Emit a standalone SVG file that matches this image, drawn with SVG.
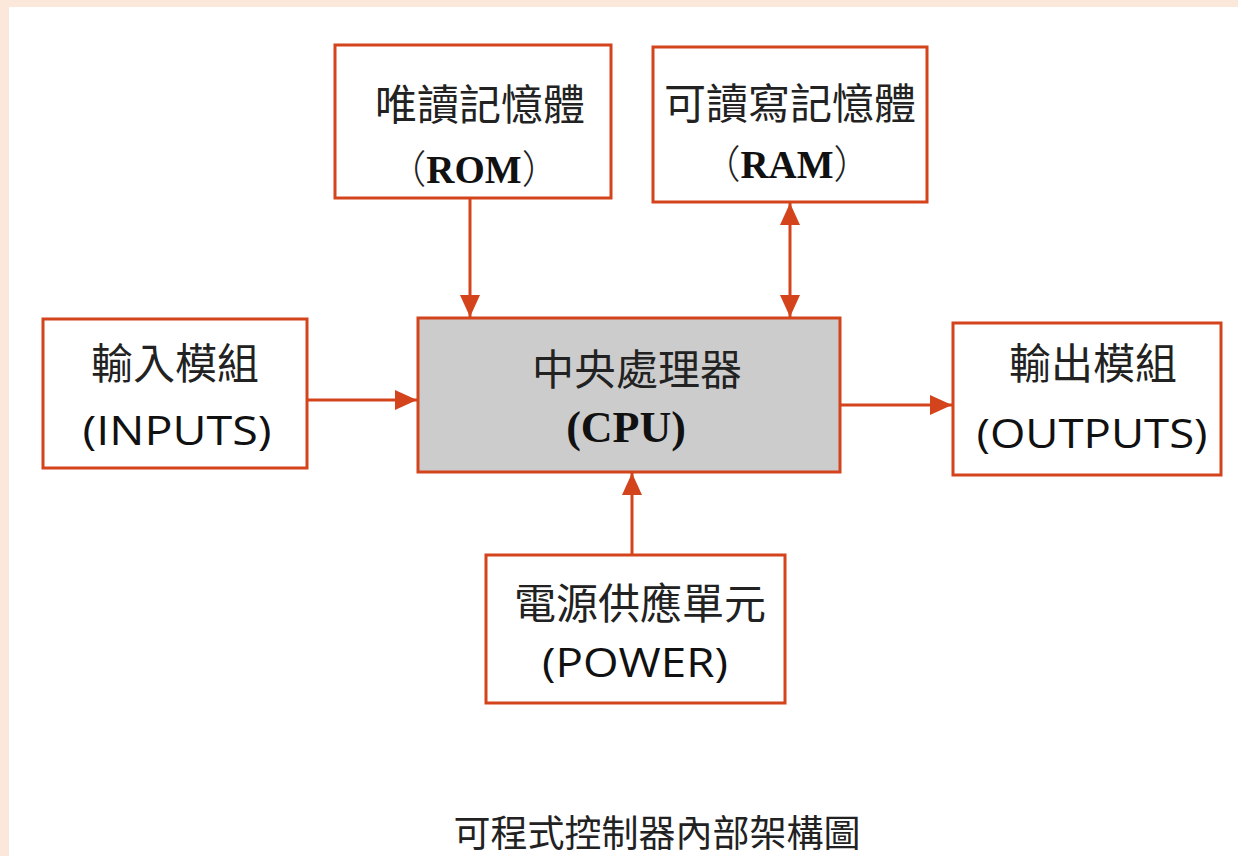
<svg xmlns="http://www.w3.org/2000/svg" width="1238" height="856" viewBox="0 0 1238 856">
<defs>
<style>
.box{fill:#fff;stroke:#d4441c;stroke-width:3}
.cpu{fill:#cccccc;stroke:#d4441c;stroke-width:3}
.cjk{font-family:"Noto Sans CJK TC","Noto Sans CJK SC",sans-serif;font-size:42px;fill:#222;text-anchor:middle}
.ser{font-family:"Liberation Serif","Noto Sans CJK TC",serif;font-weight:bold;font-size:39px;fill:#111;text-anchor:middle}
.par{font-family:"Noto Sans CJK TC",sans-serif;font-weight:300;fill:#222}
.san{font-family:"Open Sans","Liberation Sans",sans-serif;font-size:40px;fill:#111;text-anchor:middle}
.con{stroke:#d4441c;stroke-width:3;fill:none}
</style>
<marker id="ah" viewBox="0 0 22 20" refX="22" refY="10" markerWidth="22" markerHeight="20" markerUnits="userSpaceOnUse" orient="auto-start-reverse">
<path d="M0,0 L22,10 L0,20 Z" fill="#d4441c"/>
</marker>
</defs>
<rect width="1238" height="856" fill="#fce8da"/>
<rect x="9" y="7" width="1229" height="849" fill="#fff"/>
<g id="connectors">
<line class="con" x1="470" y1="198" x2="470" y2="317" marker-end="url(#ah)"/>
<line class="con" x1="790" y1="203" x2="790" y2="317" marker-start="url(#ah)" marker-end="url(#ah)"/>
<line class="con" x1="307" y1="400" x2="417" y2="400" marker-end="url(#ah)"/>
<line class="con" x1="840" y1="405" x2="952" y2="405" marker-end="url(#ah)"/>
<line class="con" x1="632" y1="555" x2="632" y2="473" marker-end="url(#ah)"/>
</g>
<g id="rom">
<rect class="box" x="335" y="45" width="276" height="153"/>
<text class="cjk" x="480" y="120">唯讀記憶體</text>
<text class="ser" x="474" y="183"><tspan class="par">（</tspan>ROM<tspan class="par">）</tspan></text>
</g>
<g id="ram">
<rect class="box" x="653" y="47" width="274" height="155"/>
<text class="cjk" x="790" y="119">可讀寫記憶體</text>
<text class="ser" x="787" y="178"><tspan class="par">（</tspan>RAM<tspan class="par">）</tspan></text>
</g>
<g id="cpu">
<rect class="cpu" x="418" y="318" width="422" height="154"/>
<text class="cjk" x="637" y="385">中央處理器</text>
<text class="ser" x="626" y="442" style="font-size:44px">(CPU)</text>
</g>
<g id="inputs">
<rect class="box" x="43" y="319" width="264" height="149"/>
<text class="cjk" x="175" y="379">輸入模組</text>
<text class="san" x="177" y="445" textLength="189" lengthAdjust="spacingAndGlyphs">(INPUTS)</text>
</g>
<g id="outputs">
<rect class="box" x="953" y="323" width="268" height="152"/>
<text class="cjk" x="1093" y="379">輸出模組</text>
<text class="san" x="1092" y="448" textLength="231" lengthAdjust="spacingAndGlyphs">(OUTPUTS)</text>
</g>
<g id="power">
<rect class="box" x="486" y="555" width="299" height="148"/>
<text class="cjk" x="640" y="619">電源供應單元</text>
<text class="san" x="635" y="677" textLength="186" lengthAdjust="spacingAndGlyphs">(POWER)</text>
</g>
<g id="caption">
<text class="cjk" x="657" y="847" style="font-size:37px">可程式控制器內部架構圖</text>
</g>
</svg>
